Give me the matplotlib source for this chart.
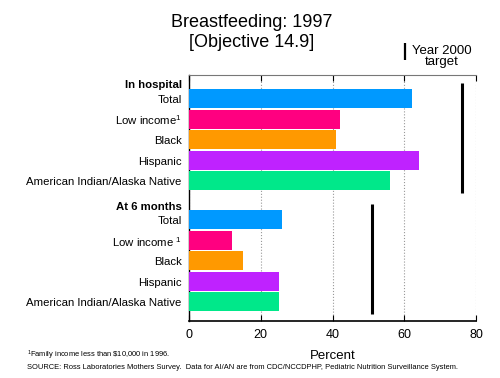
import matplotlib
matplotlib.use("Agg")
import matplotlib.pyplot as plt
from matplotlib.lines import Line2D
from matplotlib.transforms import blended_transform_factory

plt.rcParams["font.family"] = ["Liberation Sans", "DejaVu Sans"]
plt.rcParams["mathtext.fontset"] = "custom"
plt.rcParams["mathtext.rm"] = "Liberation Sans"

# data
groups = ["In hospital", "At 6 months"]
categories = ["Total", "Low income$^{\\mathregular{1}}$", "Black", "Hispanic",
              "American Indian/Alaska Native"]
hospital = [62, 42, 41, 64, 56]
six_months = [26, 12, 15, 25, 25]
targets = [76, 51]
colors = ["#0099ff", "#ff0080", "#ff9900", "#bf22ff", "#00e88a"]
x_ticks = [0, 20, 40, 60, 80]

fig = plt.figure(figsize=(5, 3.78), dpi=100)
ax = fig.add_axes([0.3774, 0.1508, 0.5752, 0.6508])

group_starts = [0, 5.9]
label_tr = blended_transform_factory(ax.transAxes, ax.transData)

for g, (start, values) in enumerate(zip(group_starts, [hospital, six_months])):
    ys = [start + i for i in range(len(values))]
    ax.barh(ys, values, height=0.92, color=colors, edgecolor="none", zorder=3)
    for y, cat in zip(ys, categories):
        if g == 1 and cat.startswith("Low"):
            cat = "Low income $^{\\mathregular{1}}$"
        ax.text(-0.024, y + 0.07, cat, transform=label_tr, ha="right",
                va="center", fontsize=8.2)
    ax.text(-0.024, start - 0.64, groups[g], transform=label_tr, ha="right",
            va="center", fontsize=8.2, fontweight="bold")
    ax.plot([targets[g], targets[g]], [start - 0.77, ys[-1] + 0.6],
            color="black", lw=2.2, solid_capstyle="butt", zorder=4)

ax.set_xlim(0, 80)
ax.set_ylim(10.83, -1.15)
ax.set_yticks([])
ax.set_xticks(x_ticks)
ax.set_xticklabels([str(t) for t in x_ticks], fontsize=9)
ax.tick_params(axis="x", direction="in", length=4, width=0.8, top=True,
               pad=6, colors="black")
for tick in ax.xaxis.get_major_ticks():
    tick.tick2line.set_color("#888888")
ax.grid(axis="x", linestyle=":", color="#999999", lw=0.8, zorder=1)
ax.spines["right"].set_visible(False)
ax.spines["top"].set_color("#777777")
ax.spines["left"].set_linewidth(1.0)
ax.spines["bottom"].set_linewidth(1.2)
ax.set_xlabel("Percent", fontsize=9.5, labelpad=6)

# title
fig.text(0.503, 0.929, "Breastfeeding: 1997", ha="center", va="baseline",
         fontsize=13)
fig.text(0.503, 0.876, "[Objective 14.9]", ha="center", va="baseline",
         fontsize=13)

# target key
fig.add_artist(Line2D([0.81, 0.81], [1 - 43.3 / 378, 1 - 60 / 378],
                      color="black", lw=1.6, solid_capstyle="butt"))
fig.text(0.884, 1 - 54 / 378, "Year 2000", ha="center", va="baseline",
         fontsize=9.5)
fig.text(0.884, 1 - 65 / 378, "target", ha="center", va="baseline",
         fontsize=9.5)

# footnotes
fig.text(0.054, 1 - 357 / 378,
         "$^{\\mathregular{1}}$Family income less than \\$10,000 in 1996.",
         ha="left", va="baseline", fontsize=5.4)
fig.text(0.054, 1 - 369 / 378,
         "SOURCE: Ross Laboratories Mothers Survey.  Data for AI/AN are from "
         "CDC/NCCDPHP, Pediatric Nutrition Surveillance System.",
         ha="left", va="baseline", fontsize=5.4)

fig.savefig("out.png", dpi=100)
